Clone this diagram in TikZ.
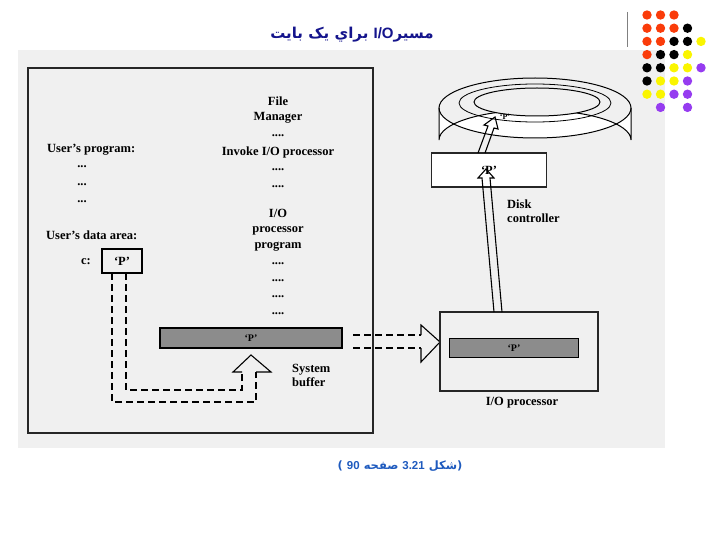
\documentclass[tikz,border=0pt]{standalone}
\usepackage{fontspec}
\setmainfont{Liberation Serif}
\newfontfamily\arabicfont[Script=Arabic]{DejaVu Sans}
\newfontfamily\latsans{Liberation Sans}
\TeXXeTstate=1
\definecolor{ttl}{RGB}{20,20,140}
\definecolor{cap}{RGB}{30,90,190}
\definecolor{dred}{RGB}{250,60,10}
\definecolor{dyel}{RGB}{250,245,0}
\definecolor{dpur}{RGB}{150,60,240}
\begin{document}
\begin{tikzpicture}[x=1pt,y=-1pt,
  txt/.style={font=\fontsize{12.5}{14}\selectfont\bfseries, inner sep=0pt},
  box/.style={draw=black!85, line width=1.6pt},
  scrib/.style={draw=black, line width=1.2pt, fill=black!45, inner sep=0pt},
  dsh/.style={dashed, dash pattern=on 7pt off 4pt, line width=1.1pt},
  hol/.style={line width=1.1pt}]
\useasboundingbox (0,0) rectangle (720,540);
\fill[black!6] (18,50) rectangle (665,448);
% title
\node[font=\arabicfont\bfseries\fontsize{15}{17}\selectfont, text=ttl] (title) at (352,35) {\beginR مسير\beginL{\latsans I/O}\endL{} براي يک بايت\endR};
\draw[black!50, line width=1pt] (627,12) -- (627,47);
% dots
\foreach \x/\y/\cc in {0/0/dred,1/0/dred,2/0/dred,
 0/1/dred,1/1/dred,2/1/dred,3/1/black,
 0/2/dred,1/2/dred,2/2/black,3/2/black,4/2/dyel,
 0/3/dred,1/3/black,2/3/black,3/3/dyel,
 0/4/black,1/4/black,2/4/dyel,3/4/dyel,4/4/dpur,
 0/5/black,1/5/dyel,2/5/dyel,3/5/dpur,
 0/6/dyel,1/6/dyel,2/6/dpur,3/6/dpur,
 1/7/dpur,3/7/dpur}
 \fill[\cc] (647+13.5*\x,15+13.2*\y) circle (4.7);
% main box
\draw[box] (28,68) rectangle (373,433);
\node[txt] (file) at (278,101) {File};
\node[txt] (mgr) at (278,118) {Manager};
\node[txt] (d1) at (278,136) {....};
\node[txt] (inv) at (278,152) {Invoke I/O processor};
\node[txt] (d2) at (278,170) {....};
\node[txt] (d3) at (278,187) {....};
\node[txt] (io) at (278,213) {I/O};
\node[txt] (proc) at (278,231) {processor};
\node[txt] (prog) at (278,247) {program};
\foreach \yy/\nm in {264/e1,281/e2,297/e3,314/e4} \node[txt] (\nm) at (278,\yy) {....};
\node[txt, anchor=west] (up) at (47,150) {User's program:};
\foreach \yy/\nm in {167/u1,185/u2,202/u3} \node[txt] (\nm) at (82,\yy) {...};
\node[txt, anchor=west] (uda) at (46,235) {User's data area:};
\node[txt] (c) at (86,262) {c:};
\node[draw, line width=1.1pt, minimum width=40pt, minimum height=24pt, txt] (pbox) at (122,261) {`P'};
% system buffer
\node[scrib, minimum width=182pt, minimum height=20pt] (sbuf) at (251,338) {\bfseries `P'};
\node[txt, align=left, anchor=west] (sbl) at (292,375) {System\\buffer};
% dashed hollow up arrow
\draw[dsh] (112,273) -- (112,402) -- (256,402) -- (256,372);
\draw[dsh] (126,273) -- (126,390) -- (242,390) -- (242,372);
\draw[hol] (242,372) -- (233,372) -- (251,355) -- (271,372) -- (256,372);
% dashed hollow right arrow
\draw[dsh] (353,335) -- (421,335);
\draw[dsh] (353,348) -- (421,348);
\draw[hol] (421,335) -- (421,325) -- (440,342) -- (421,362) -- (421,348);
% I/O processor
\draw[box] (440,312) rectangle (598,391);
\node[scrib, minimum width=129pt, minimum height=19pt] (iobuf) at (514,348) {\bfseries `P'};
\node[txt] (iol) at (522,403) {I/O processor};
% disk
\fill[white] (439,108) -- (439,140) arc[start angle=180,end angle=360,x radius=96,y radius=30] -- (631,108) arc[start angle=0,end angle=180,x radius=96,y radius=30];
\draw[line width=1pt] (439,108) -- (439,140) arc[start angle=180,end angle=360,x radius=96,y radius=30] -- (631,108);
\draw[line width=1pt] (535,108) ellipse[x radius=96,y radius=30];
\draw[line width=0.8pt] (535,103) ellipse[x radius=76,y radius=19];
\draw[line width=1pt, fill=black!6] (537,102) ellipse[x radius=63,y radius=14];
\node[font=\fontsize{8}{9}\selectfont\bfseries] (pdisk) at (505,117) {`P'};
% disk controller
\node[box, fill=white, minimum width=115pt, minimum height=34pt, txt] (dc) at (489,170) {`P'};
\node[txt, align=left, anchor=west] (dcl) at (507,211) {Disk\\controller};
% hollow thin arrows
\draw[hol] (494,312) -- (482,178) -- (478,178) -- (486,169) -- (494,178) -- (490,178) -- (502,312);
\draw[hol] (478,153) -- (488,126) -- (484,125) -- (495,117) -- (498,129) -- (494,128) -- (485,153);
% caption
\node[font=\arabicfont\bfseries\fontsize{11.5}{13}\selectfont, text=cap] (capt) at (400,466) {\beginR(شکل \beginL{\latsans 3.21}\endL{} صفحه \beginL{\latsans 90}\endL{} )\endR};
\end{tikzpicture}
\end{document}
